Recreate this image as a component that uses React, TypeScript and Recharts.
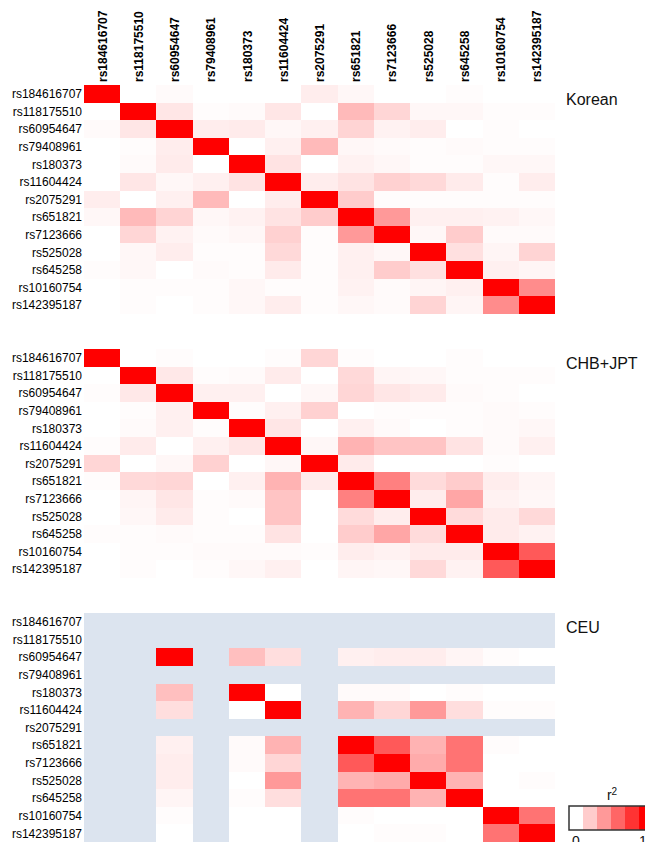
import { ScatterChart, Scatter, XAxis, YAxis } from "recharts"

const snps = [
  "rs184616707", "rs118175510", "rs60954647", "rs79408961", "rs180373",
  "rs11604424", "rs2075291", "rs651821", "rs7123666", "rs525028",
  "rs645258", "rs10160754", "rs142395187",
]

// r2 matrices, row = snp, col = snp (null = monomorphic in that population)
const korean: (number | null)[][] = [
  [1, 0, 0.02, 0, 0, 0, 0.07, 0.03, 0, 0, 0.01, 0, 0],
  [0, 1, 0.1, 0.01, 0.02, 0.1, 0, 0.27, 0.16, 0.03, 0.03, 0.01, 0.01],
  [0.02, 0.1, 1, 0.07, 0.08, 0.03, 0.06, 0.17, 0.05, 0.07, 0, 0.01, 0],
  [0, 0.01, 0.07, 1, 0, 0.06, 0.27, 0.03, 0.02, 0.01, 0.02, 0.01, 0.01],
  [0, 0.02, 0.08, 0, 1, 0.11, 0, 0.05, 0.03, 0.01, 0.01, 0.03, 0.03],
  [0, 0.1, 0.03, 0.06, 0.11, 1, 0.07, 0.11, 0.18, 0.15, 0.08, 0.01, 0.07],
  [0.07, 0, 0.06, 0.27, 0, 0.07, 1, 0.2, 0.01, 0.01, 0.01, 0.01, 0.01],
  [0.03, 0.27, 0.17, 0.03, 0.05, 0.11, 0.2, 1, 0.4, 0.06, 0.06, 0.05, 0.03],
  [0, 0.16, 0.05, 0.02, 0.03, 0.18, 0.01, 0.4, 1, 0.03, 0.2, 0.02, 0.02],
  [0, 0.03, 0.07, 0.01, 0.01, 0.15, 0.01, 0.06, 0.03, 1, 0.12, 0.04, 0.17],
  [0.01, 0.03, 0, 0.02, 0.01, 0.08, 0.01, 0.06, 0.2, 0.12, 1, 0.06, 0.04],
  [0, 0.01, 0.01, 0.01, 0.03, 0.01, 0.01, 0.05, 0.02, 0.04, 0.06, 1, 0.45],
  [0, 0.01, 0, 0.01, 0.03, 0.07, 0.01, 0.03, 0.02, 0.17, 0.04, 0.45, 1],
]

const chbJpt: (number | null)[][] = [
  [1, 0, 0.01, 0, 0, 0.01, 0.16, 0.01, 0, 0, 0.01, 0, 0],
  [0, 1, 0.09, 0.01, 0.02, 0.08, 0, 0.15, 0.04, 0.03, 0.01, 0.01, 0.01],
  [0.01, 0.09, 1, 0.06, 0.06, 0, 0.03, 0.16, 0.1, 0.08, 0.02, 0.01, 0],
  [0, 0.01, 0.06, 1, 0.01, 0.06, 0.18, 0, 0.01, 0.01, 0.01, 0.02, 0.01],
  [0, 0.02, 0.06, 0.01, 1, 0.1, 0, 0.06, 0.02, 0, 0.01, 0.02, 0.03],
  [0.01, 0.08, 0, 0.06, 0.1, 1, 0.03, 0.3, 0.23, 0.23, 0.11, 0.02, 0.06],
  [0.16, 0, 0.03, 0.18, 0, 0.03, 1, 0.08, 0, 0, 0, 0.01, 0],
  [0.01, 0.15, 0.16, 0, 0.06, 0.3, 0.08, 1, 0.5, 0.14, 0.2, 0.07, 0.04],
  [0, 0.04, 0.1, 0.01, 0.02, 0.23, 0, 0.5, 1, 0.07, 0.35, 0.05, 0.03],
  [0, 0.03, 0.08, 0.01, 0, 0.23, 0, 0.14, 0.07, 1, 0.14, 0.08, 0.15],
  [0.01, 0.01, 0.02, 0.01, 0.01, 0.11, 0, 0.2, 0.35, 0.14, 1, 0.08, 0.05],
  [0, 0.01, 0.01, 0.02, 0.02, 0.02, 0.01, 0.07, 0.05, 0.08, 0.08, 1, 0.65],
  [0, 0.01, 0, 0.01, 0.03, 0.06, 0, 0.04, 0.03, 0.15, 0.05, 0.65, 1],
]

const n = null
const ceu: (number | null)[][] = [
  [n, n, n, n, n, n, n, n, n, n, n, n, n],
  [n, n, n, n, n, n, n, n, n, n, n, n, n],
  [n, n, 1, n, 0.25, 0.13, n, 0.06, 0.07, 0.07, 0.04, 0.01, 0],
  [n, n, n, n, n, n, n, n, n, n, n, n, n],
  [n, n, 0.25, n, 1, 0, n, 0.02, 0.02, 0, 0.01, 0, 0],
  [n, n, 0.13, n, 0, 1, n, 0.3, 0.16, 0.4, 0.13, 0.01, 0.01],
  [n, n, n, n, n, n, n, n, n, n, n, n, n],
  [n, n, 0.06, n, 0.02, 0.3, n, 1, 0.65, 0.3, 0.55, 0.01, 0],
  [n, n, 0.07, n, 0.02, 0.16, n, 0.65, 1, 0.33, 0.55, 0, 0],
  [n, n, 0.07, n, 0, 0.4, n, 0.3, 0.33, 1, 0.3, 0, 0.01],
  [n, n, 0.04, n, 0.01, 0.13, n, 0.55, 0.55, 0.3, 1, 0, 0],
  [n, n, 0.01, n, 0, 0, n, 0.01, 0, 0, 0, 1, 0.55],
  [n, n, 0, n, 0, 0, n, 0, 0.01, 0.01, 0, 0.55, 1],
]

const panelTitles = ["Korean", "CHB+JPT", "CEU"]
const panels = [korean, chbJpt, ceu]
const legendSteps = [0, 0.2, 0.4, 0.6, 0.8, 1]

const W = 645
const H = 842
const Y_AXIS_W = 84
const X_AXIS_H = 80
const MARGIN = { top: 5, right: 90, bottom: 0, left: 0 }
const PANEL_STEP = 15 // rows between panel tops (13 rows + gap)
const TOTAL_ROWS = PANEL_STEP * 2 + snps.length
const PLOT_W = W - Y_AXIS_W - MARGIN.left - MARGIN.right
const PLOT_H = H - X_AXIS_H - MARGIN.top - MARGIN.bottom
const CELL_W = PLOT_W / snps.length
const CELL_H = PLOT_H / TOTAL_ROWS
const PLOT_TOP = MARGIN.top + X_AXIS_H

const FONT = "'Liberation Sans', Arial, sans-serif"

function r2Color(v: number | null) {
  if (v === null) return "#dce4ef"
  const c = Math.round(255 * (1 - v))
  return `rgb(255,${c},${c})`
}

const panelData = panels.map((m, pi) =>
  m.flatMap((row, r) =>
    row.map((v, c) => ({ x: c + 0.5, y: pi * PANEL_STEP + r + 0.5, r2: v }))
  )
)

const xTicks = snps.map((_, i) => i + 0.5)
const yTicks = panels.flatMap((_, pi) => snps.map((_, i) => pi * PANEL_STEP + i + 0.5))

function Cell(props: any) {
  const { cx, cy, payload } = props
  return (
    <rect
      x={cx - CELL_W / 2}
      y={cy - CELL_H / 2}
      width={CELL_W + 0.4}
      height={CELL_H + 0.4}
      fill={r2Color(payload.r2)}
      shapeRendering="crispEdges"
    />
  )
}

function ColTick(props: any) {
  const { x, payload } = props
  return (
    <text
      transform={`translate(${x + 4.5}, ${PLOT_TOP - 3}) rotate(-90)`}
      textAnchor="start"
      fontSize={12}
      fontWeight="bold"
      fontFamily={FONT}
      fill="#000"
    >
      {snps[Math.floor(payload.value)]}
    </text>
  )
}

function RowTick(props: any) {
  const { y, payload } = props
  return (
    <text
      x={Y_AXIS_W - 2}
      y={y}
      dy="0.36em"
      textAnchor="end"
      fontSize={12}
      fontFamily={FONT}
      fill="#000"
    >
      {snps[Math.floor(payload.value) % PANEL_STEP]}
    </text>
  )
}

export default function App() {
  const legendX = 569
  const legendY = 806
  const stepW = 14
  return (
    <div style={{ position: "absolute", left: 0, top: 0, width: W, height: H, background: "#fff" }}>
      <ScatterChart width={W} height={H} margin={MARGIN}>
        <XAxis
          type="number"
          dataKey="x"
          orientation="top"
          domain={[0, snps.length]}
          ticks={xTicks}
          interval={0}
          height={X_AXIS_H}
          axisLine={false}
          tickLine={false}
          tick={<ColTick />}
        />
        <YAxis
          type="number"
          dataKey="y"
          domain={[0, TOTAL_ROWS]}
          reversed
          ticks={yTicks}
          interval={0}
          width={Y_AXIS_W}
          axisLine={false}
          tickLine={false}
          tick={<RowTick />}
        />
        {panelData.map((d, i) => (
          <Scatter key={panelTitles[i]} data={d} shape={<Cell />} isAnimationActive={false} />
        ))}
      </ScatterChart>
      <svg
        width={W}
        height={H}
        style={{ position: "absolute", left: 0, top: 0, pointerEvents: "none" }}
      >
        {panelTitles.map((t, i) => (
          <text
            key={t}
            x={566}
            y={PLOT_TOP + i * PANEL_STEP * CELL_H + 20}
            fontSize={16}
            fontFamily={FONT}
            fill="#111"
          >
            {t}
          </text>
        ))}
        <text x={legendX + 43} y={legendY - 6} fontSize={14} fontFamily={FONT} textAnchor="middle" fill="#111">
          r<tspan dy={-5} fontSize={10}>2</tspan>
        </text>
        {legendSteps.map((v, i) => (
          <rect
            key={v}
            x={legendX + i * stepW}
            y={legendY}
            width={stepW}
            height={24}
            fill={r2Color(v)}
            shapeRendering="crispEdges"
          />
        ))}
        <rect
          x={legendX}
          y={legendY}
          width={legendSteps.length * stepW}
          height={24}
          fill="none"
          stroke="#333"
          strokeWidth={1.5}
        />
        <text x={legendX + 7} y={legendY + 40} fontSize={14} fontFamily={FONT} textAnchor="middle" fill="#111">
          0
        </text>
        <text x={legendX + 74} y={legendY + 40} fontSize={14} fontFamily={FONT} textAnchor="middle" fill="#111">
          1
        </text>
      </svg>
    </div>
  )
}
